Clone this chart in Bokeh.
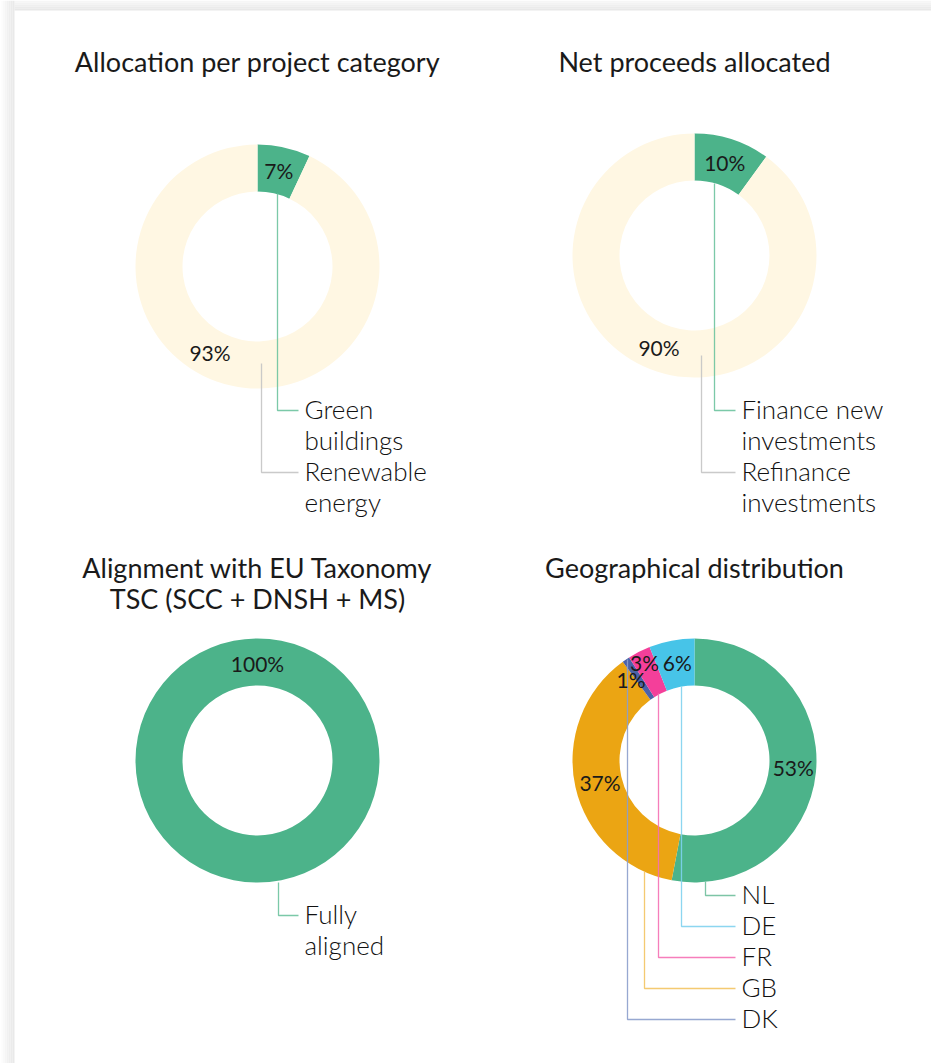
import math
from bokeh.plotting import figure
from bokeh.models import Range1d
from bokeh.core.properties import value
from bokeh.embed import file_html
from bokeh.resources import INLINE

# ---------------- data ----------------
cat_labels = ["Green buildings", "Renewable energy"]
cat_values = [7, 93]

proc_labels = ["Finance new investments", "Refinance investments"]
proc_values = [10, 90]

tax_labels = ["Fully aligned"]
tax_values = [100]

geo_labels = ["NL", "GB", "DK", "FR", "DE"]
geo_values = [53, 37, 1, 3, 6]

titles = ["Allocation per project category", "Net proceeds allocated",
          "Alignment with EU Taxonomy\nTSC (SCC + DNSH + MS)", "Geographical distribution"]

# ---------------- styles ----------------
GREEN = "#4cb38a"
CREAM = "#fff7e3"
ORANGE = "#eba513"
PINK = "#f43f9a"
SKY = "#47c4e8"
NAVY = "#4b62a8"
GREY_LINE = "#c4c4c4"
TXT = "#1a1a1a"
FONT = value("Lato")
LIGHT_FONT = value("Lato Light, Lato")

W, H = 931, 1063
R_OUT, R_IN = 122, 75
LINE_STEP = 31


def X(x):
    return x


def Y(y):
    return H - y


p = figure(width=W, height=H, x_range=Range1d(0, W), y_range=Range1d(0, H),
           x_axis_type=None, y_axis_type=None, toolbar_location=None,
           output_backend="svg", min_border=0)
p.outline_line_color = None
p.grid.visible = False
p.background_fill_color = "white"
p.border_fill_color = "white"

# card shadow (top band and left band)
top_cols = ["#f6f6f6", "#f3f3f3", "#efefef", "#ebebeb", "#e8e8e8"]
for k, c in enumerate(top_cols):
    p.quad(left=[X(14)], right=[X(W)], top=[Y(2 * k)], bottom=[Y(2 * k + 2)],
           fill_color=c, line_color=None)
left_cols = ["#fdfdfd", "#f9f9f9", "#f5f5f5", "#f1f1f1", "#eeeeee", "#ebebeb", "#e9e9e9"]
for k, c in enumerate(left_cols):
    p.quad(left=[X(2 * k)], right=[X(2 * k + 2)], top=[Y(0)], bottom=[Y(H)],
           fill_color=c, line_color=None)


def wrap(label):
    special = {"Green buildings": ["Green", "buildings"],
               "Renewable energy": ["Renewable", "energy"],
               "Finance new investments": ["Finance new", "investments"],
               "Refinance investments": ["Refinance", "investments"],
               "Fully aligned": ["Fully", "aligned"]}
    return special.get(label, [label])


def donut(cx, cy, values, colors, label_over, title_lines, title_y,
          legend_order, anchors, line_colors, elbow_x, legend_y0, labels):
    total = float(sum(values))
    cum = 0.0
    starts, ends, mids = [], [], []
    for v in values:
        a0 = 90 - 360 * cum / total
        cum += v
        a1 = 90 - 360 * cum / total
        starts.append(math.radians(a1))
        ends.append(math.radians(a0))
        mids.append((a0 + a1) / 2)
    p.annular_wedge(x=[X(cx)] * len(values), y=[Y(cy)] * len(values),
                    inner_radius=R_IN, outer_radius=R_OUT,
                    start_angle=starts, end_angle=ends,
                    direction="anticlock", fill_color=colors, line_color=None)
    for k, t in enumerate(title_lines):
        p.text(x=[X(cx)], y=[Y(title_y + k * 31)], text=[t], text_font=FONT,
               text_font_size="27px", text_align="center", text_baseline="middle",
               text_color=TXT)
    ly = legend_y0
    for idx, (ax, ay), lc in zip(legend_order, anchors, line_colors):
        p.line(x=[X(ax), X(ax), X(elbow_x)], y=[Y(ay), Y(ly), Y(ly)],
               line_color=lc, line_width=1.3, line_alpha=0.9)
        for line in wrap(labels[idx]):
            p.text(x=[X(elbow_x + 6)], y=[Y(ly - 1.5)], text=[line], text_font=LIGHT_FONT,
                   text_font_size="26px", text_align="left", text_baseline="middle",
                   text_color="#111111")
            ly += LINE_STEP
    for i, v in enumerate(values):
        ang, r = label_over.get(i, (mids[i], 98))
        lx = X(cx) + r * math.cos(math.radians(ang))
        lyy = Y(cy) + r * math.sin(math.radians(ang))
        p.text(x=[lx], y=[lyy], text=["%d%%" % v], text_font=FONT,
               text_font_size="21px", text_align="center", text_baseline="middle",
               text_color=TXT)


donut(257, 266, cat_values, [GREEN, CREAM], {1: (-119, 98)},
      titles[0].split("\n"), 61, [0, 1], [(277, 193), (261, 363)],
      ["#6dc39f", GREY_LINE], 298, 410, cat_labels)

donut(694, 255, proc_values, [GREEN, CREAM], {1: (-111, 99)},
      titles[1].split("\n"), 61, [0, 1], [(714, 183), (701, 355)],
      ["#6dc39f", GREY_LINE], 735, 410, proc_labels)

donut(257, 760, tax_values, [GREEN], {0: (90, 97)},
      titles[2].split("\n"), 567, [0], [(278, 882)],
      ["#6dc39f"], 298, 915, tax_labels)

donut(694, 760, geo_values, [GREEN, ORANGE, NAVY, PINK, SKY],
      {0: (-4, 99), 1: (-167, 97), 2: (128, 103), 3: (117, 110), 4: (100, 99.5)},
      titles[3].split("\n"), 567, [0, 4, 3, 1, 2],
      [(705, 881), (681, 686), (658, 693), (644, 871), (627, 659)],
      ["#6fbf9c", "#7fd2ee", "#f570b4", "#f3c462", "#8c9ecc"], 735, 895, geo_labels)

open("out.html", "w").write(file_html(p, INLINE))
